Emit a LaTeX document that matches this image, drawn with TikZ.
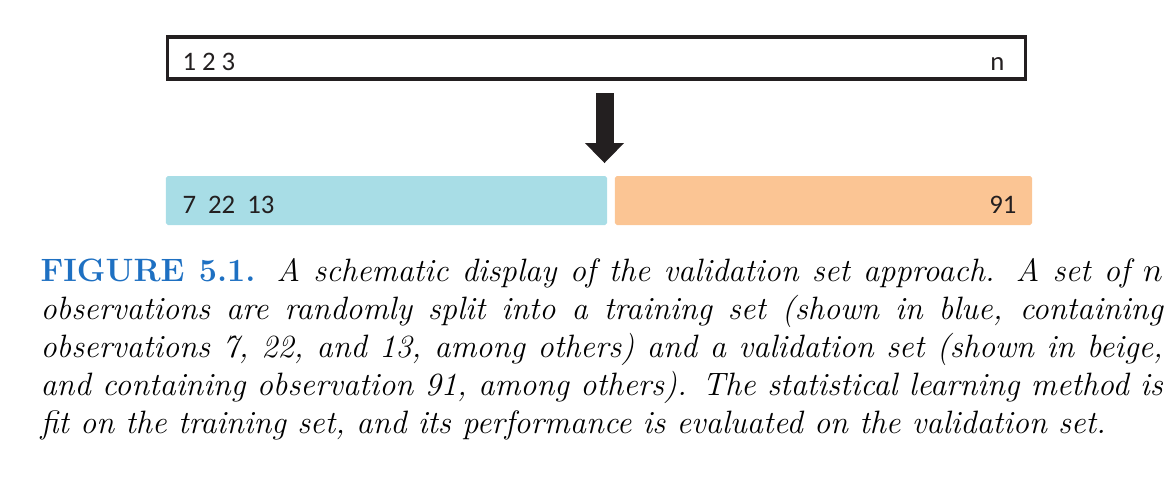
\documentclass[tikz,border=0pt]{standalone}
\usepackage{fontspec}
\newfontfamily\obsfont{Carlito}
\usetikzlibrary{arrows.meta,positioning}
\definecolor{trainblue}{HTML}{A8DDE6}
\definecolor{validbeige}{HTML}{FBC594}
\definecolor{figblue}{HTML}{1E70C2}
\definecolor{inkgray}{HTML}{231F20}

\begin{document}
\begin{tikzpicture}[
      x=0.0125cm, y=-0.0125cm,
      obsbox/.style={rectangle, draw=inkgray, line width=1.1pt, minimum width=10.7125cm, minimum height=0.525cm, inner sep=0pt},
      setbar/.style={rectangle, rounded corners=0.7pt, minimum height=0.6125cm, inner sep=0pt},
      obslabel/.style={font=\obsfont\fontsize{9.5}{11}\selectfont, text=inkgray, inner sep=0pt},
      bigarrow/.style={draw=inkgray, line width=6.4pt, -{Triangle[width=13.9pt,length=7.1pt,line width=0pt]}},
      caption/.style={text width=14.025cm, align=justify, inner sep=0pt, font=\fontsize{11.5}{13.5}\selectfont\itshape}
      ]
      \useasboundingbox (0,0) rectangle (1174,481);
      % all n observations
      \node[obsbox] (all) at (596.5,58) {};
      \node[obslabel, anchor=base west] (first) at (182,70) {1 2 3};
      \node[obslabel, anchor=base east] (last) at (1005,70) {n};
      % the split
      \node[setbar, fill=trainblue, minimum width=5.5125cm] (train) at (386.5,200.5) {};
      \node[setbar, fill=validbeige, minimum width=5.2125cm] (valid) at (823.5,200.5) {};
      \node[obslabel, anchor=base west] (trainobs) at (182,213) {7~~22~~13};
      \node[obslabel, anchor=base east] (validobs) at (1017,213) {91};
      \coordinate (cut) at (604.5,93);
      \coordinate (cutend) at (604.5,163);
      \draw[bigarrow] (cut) -- (cutend);
      % caption
      \node[caption, anchor=north west] (cap) at (40,258) {{\upshape\bfseries\color{figblue}FIGURE 5.1.} A schematic display of the validation set approach. A set of $n$\linebreak
        observations are randomly split into a training set (shown in blue, containing\linebreak
        observations 7, 22, and 13, among others) and a validation set (shown in beige,\linebreak
        and containing observation 91, among others). The statistical learning method is\linebreak
        fit on the training set, and its performance is evaluated on the validation set.};
    \end{tikzpicture}
\end{document}
